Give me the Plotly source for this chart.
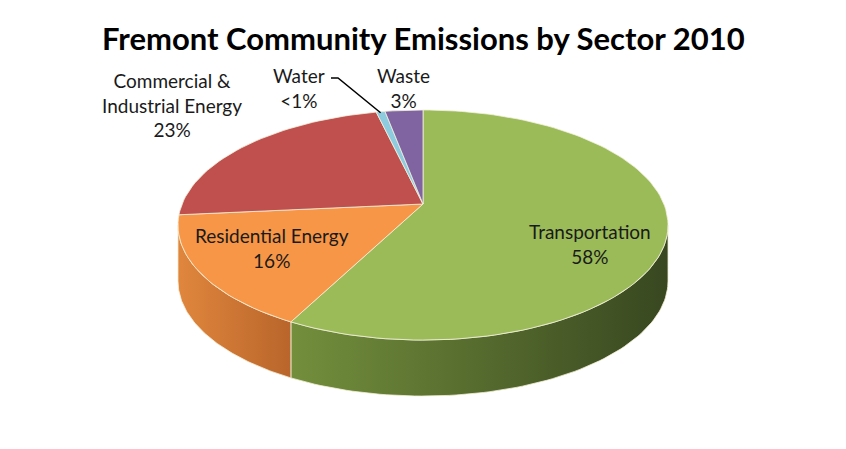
import numpy as np
import plotly.graph_objects as go

# data
sectors = ["Transportation", "Residential Energy", "Commercial &<br>Industrial Energy", "Water", "Waste"]
shares = [58, 16, 23, 0.7, 3]
share_text = ["58%", "16%", "23%", "<1%", "3%"]
top_colors = ["#9BBB59", "#F79646", "#C0504D", "#8FCBDF", "#8064A2"]
side_colors = [("#738F3C", "#384720"), ("#E0863D", "#B9652B"), ("#A63F3C", "#7E2B29"),
               ("#6FA9BC", "#4D8091"), ("#684F88", "#4B3A63")]

W, H = 846, 449
PAD = 8              # the page body margin
CX, CY = 423, 204    # where the pie centre lands on screen (pixels)
A, B = 240.9, 111.2  # horizontal / vertical scale of the disc
PERSP = -0.1827      # perspective: the near edge looks bigger
DEPTH = 56


def disc_pt(theta, dy=0.0):
    # theta in radians, clockwise from 12 o'clock, projected with a bit of perspective
    u = np.sin(theta)
    v = -np.cos(theta)
    k = 1 + PERSP * v
    return CX + A * u / k, CY + B * v / k + dy


fracs = np.array(shares) / np.sum(shares)
edges = np.concatenate([[0], np.cumsum(fracs)]) * 2 * np.pi

# the wall is seen only between the two silhouette points of the rim
rim = np.arcsin(abs(PERSP))
wall_from, wall_to = np.pi / 2 + rim, 3 * np.pi / 2 - rim

fig = go.Figure()

# front walls of the cylinder
for i in range(len(shares)):
    a = max(edges[i], wall_from)
    b = min(edges[i + 1], wall_to)
    if b <= a:
        continue
    t = np.linspace(a, b, 80)
    xt, yt = disc_pt(t)
    xb, yb = disc_pt(t[::-1], DEPTH)
    xs = np.concatenate([xt, xb, xt[:1]])
    ys = np.concatenate([yt, yb, yt[:1]])
    c1, c2 = side_colors[i]
    fig.add_trace(go.Scatter(
        x=xs, y=ys, mode="lines", fill="toself",
        fillgradient=dict(type="horizontal", colorscale=[[0, c1], [1, c2]]),
        line=dict(color="#F3EFD6", width=0.8),
        hoverinfo="skip", showlegend=False,
    ))

# top faces
for i in range(len(shares)):
    n = max(6, int(200 * fracs[i]))
    t = np.linspace(edges[i], edges[i + 1], n)
    xe, ye = disc_pt(t)
    xs = np.concatenate([[CX], xe, [CX]])
    ys = np.concatenate([[CY], ye, [CY]])
    fig.add_trace(go.Scatter(
        x=xs, y=ys, mode="lines", fill="toself", fillcolor=top_colors[i],
        line=dict(color="#F3F0DC", width=0.8),
        hoverinfo="skip", showlegend=False, name=sectors[i],
    ))

# leader line for the small Water slice
mid_w = (edges[3] + edges[4]) / 2
wx, wy = disc_pt(mid_w)
fig.add_trace(go.Scatter(
    x=[331, 338, wx], y=[78, 78, wy + 1], mode="lines",
    line=dict(color="black", width=1.5), hoverinfo="skip", showlegend=False,
))

label_xy = [(590, 244), (272, 248), (172, 105), (299, 88), (403, 88)]
font = dict(family="Lato, Open Sans, sans-serif", size=19, color="#1a1a1a")
for name, pct, (lx, ly) in zip(sectors, share_text, label_xy):
    fig.add_annotation(x=lx, y=ly, xref="x", yref="y", text=f"{name}<br>{pct}",
                       showarrow=False, font=font, align="center")

fig.add_annotation(x=CX, y=38, xref="x", yref="y",
                   text="<b>Fremont Community Emissions by Sector 2010</b>",
                   showarrow=False,
                   font=dict(family="Lato, Open Sans, sans-serif", size=31, color="black"))

fig.update_layout(
    width=W - PAD, height=H - PAD,
    margin=dict(l=0, r=0, t=0, b=0),
    paper_bgcolor="white", plot_bgcolor="white",
    xaxis=dict(range=[PAD, W], visible=False, fixedrange=True),
    yaxis=dict(range=[H, PAD], visible=False, fixedrange=True),
    showlegend=False,
)

fig.write_html("out.html")
